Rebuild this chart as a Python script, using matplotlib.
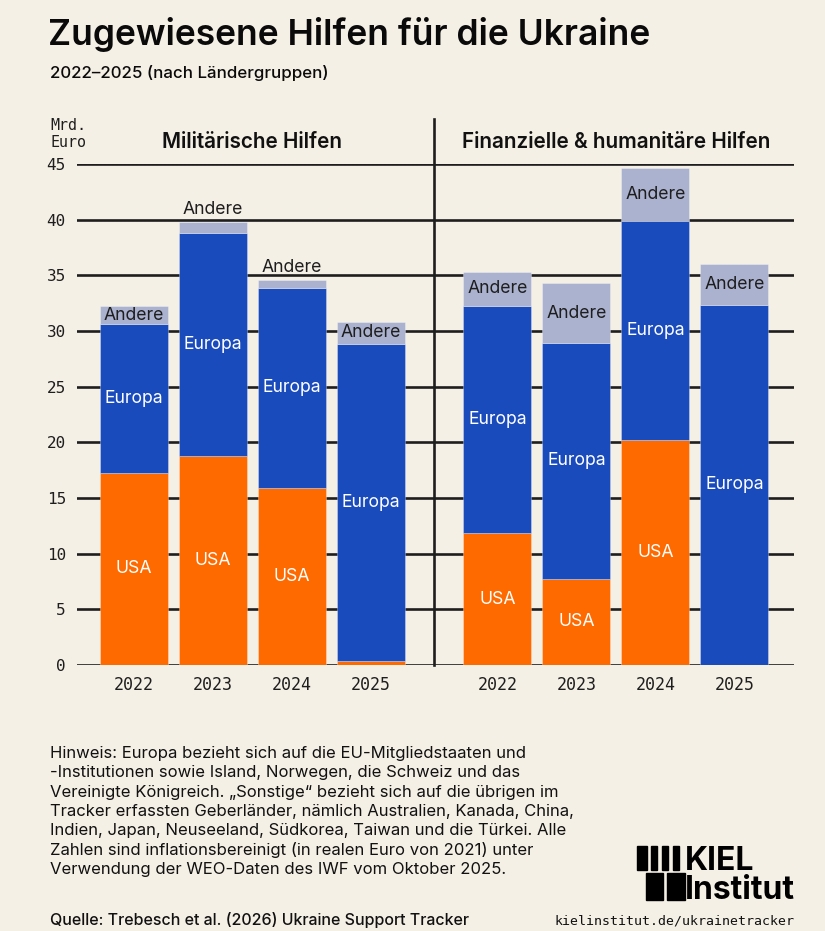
import matplotlib
matplotlib.use("Agg")
import matplotlib.pyplot as plt
from matplotlib.patches import Rectangle

# ---------------- data ----------------
years = ["2022", "2023", "2024", "2025"]
panels = ["Militärische Hilfen", "Finanzielle & humanitäre Hilfen"]
mil_usa = [17.25, 18.8, 15.9, 0.36]
mil_europa = [13.35, 20.0, 18.0, 28.5]
mil_andere = [1.65, 1.0, 0.7, 1.95]
fin_usa = [11.85, 7.75, 20.2, 0.0]
fin_europa = [20.4, 21.15, 19.7, 32.35]
fin_andere = [3.05, 5.4, 4.75, 3.65]
series_names = ["USA", "Europa", "Andere"]
y_ticks = [0, 5, 10, 15, 20, 25, 30, 35, 40, 45]

note_lines = [
    "Hinweis: Europa bezieht sich auf die EU-Mitgliedstaaten und",
    "-Institutionen sowie Island, Norwegen, die Schweiz und das",
    "Vereinigte Königreich. „Sonstige“ bezieht sich auf die übrigen im",
    "Tracker erfassten Geberländer, nämlich Australien, Kanada, China,",
    "Indien, Japan, Neuseeland, Südkorea, Taiwan und die Türkei. Alle",
    "Zahlen sind inflationsbereinigt (in realen Euro von 2021) unter",
    "Verwendung der WEO-Daten des IWF vom Oktober 2025.",
]

# ---------------- style ----------------
BG = "#F5F0E6"
C_USA = "#FF6A00"
C_EUR = "#1A4BBD"
C_AND = "#ABB2CF"
INK = "#1E1E1E"
SANS = ["Inter", "DejaVu Sans"]
MONO = ["DejaVu Sans Mono"]

W, H = 825, 931
fig = plt.figure(figsize=(W / 100, H / 100), dpi=100, facecolor=BG)

def fx(x):
    return x / W

def fy(y):
    return 1 - y / H

ax_l, ax_r, ax_t, ax_b = 77, 794, 164, 665
ax = fig.add_axes([fx(ax_l), fy(ax_b), (ax_r - ax_l) / W, (ax_b - ax_t) / H])
ax.set_facecolor(BG)

gap = 1.6
pos_mil = [0, 1, 2, 3]
pos_fin = [3 + gap + i for i in range(4)]
width = 0.86

ax.set_xlim(-0.72, 8.354)
ax.set_ylim(0, 45)

for t in y_ticks:
    ax.axhline(t, color=INK, lw=1.9, zorder=1)

def draw_group(pos, usa, eur, andr):
    for i, x in enumerate(pos):
        segs = [(usa[i], C_USA, "USA", "white"),
                (eur[i], C_EUR, "Europa", "white"),
                (andr[i], C_AND, "Andere", INK)]
        bottom = 0
        for val, col, name, tc in segs:
            if val > 0:
                ax.bar(x, val, width=width, bottom=bottom, color=col,
                       edgecolor=(1, 1, 1, 0.35), linewidth=0.6, zorder=2)
                if name == "USA" and val < 1.5:
                    pass
                elif val >= 1.5:
                    ax.text(x, bottom + val / 2, name, ha="center", va="center",
                            color=tc, fontsize=12.7, family=SANS, zorder=3)
                else:
                    ax.text(x, bottom + val + 1.1, name, ha="center", va="center",
                            color=tc, fontsize=12.7, family=SANS, zorder=3)
            bottom += val

draw_group(pos_mil, mil_usa, mil_europa, mil_andere)
draw_group(pos_fin, fin_usa, fin_europa, fin_andere)

# divider
div_x = 3 + gap / 2
ax.plot([div_x, div_x], [0, 49], color=INK, lw=1.9, clip_on=False, zorder=4)

# panel titles
ax.text(sum(pos_mil) / 4, 47.0, panels[0], ha="center", va="center",
        fontsize=14.9, fontweight="semibold", family=SANS, color="#111111")
ax.text(sum(pos_fin) / 4, 47.0, panels[1], ha="center", va="center",
        fontsize=14.9, fontweight="semibold", family=SANS, color="#111111")

# axes cosmetics
for s in ax.spines.values():
    s.set_visible(False)
ax.set_yticks(y_ticks)
ax.set_yticklabels([str(t) for t in y_ticks], family=MONO, fontsize=11.5, color=INK)
ax.set_xticks(pos_mil + pos_fin)
ax.set_xticklabels(years + years, family=MONO, fontsize=12, color=INK)
ax.tick_params(axis="both", length=0)
ax.tick_params(axis="y", pad=8)
ax.tick_params(axis="x", pad=8)

# unit label
fig.text(fx(50), fy(130), "Mrd.", family=MONO, fontsize=10.8, color=INK, va="baseline")
fig.text(fx(50), fy(147), "Euro", family=MONO, fontsize=10.8, color=INK, va="baseline")

# title and subtitle
fig.text(fx(48), fy(45), "Zugewiesene Hilfen für die Ukraine", family=SANS,
         fontsize=25.5, fontweight="semibold", color="#0A0A0A", va="baseline")
fig.text(fx(50), fy(78), "2022–2025 (nach Ländergruppen)", family=SANS,
         fontsize=12.2, fontweight="medium", color="#0A0A0A", va="baseline")

# note
for i, line in enumerate(note_lines):
    fig.text(fx(50), fy(758 + i * 19.3), line, family=SANS, fontsize=12.0,
             color="#111111", va="baseline")

fig.text(fx(50), fy(925), "Quelle: Trebesch et al. (2026) Ukraine Support Tracker",
         family=SANS, fontsize=11.5, fontweight="medium", color="#111111", va="baseline")
fig.text(fx(795), fy(925), "kielinstitut.de/ukrainetracker", family=MONO,
         fontsize=9.5, color="#111111", va="baseline", ha="right")

# logo
def prect(x, y, w, h):
    fig.patches.append(Rectangle((fx(x), fy(y + h)), w / W, h / H,
                                 transform=fig.transFigure, color="black"))

for (x, w) in [(637, 10), (651, 6), (662, 6), (673, 6)]:
    prect(x, 846, w, 24)
prect(646, 873, 17, 27)
prect(667, 873, 18, 27)
fig.text(fx(685), fy(870), "KIEL", family=SANS, fontsize=23, fontweight="bold",
         color="black", va="baseline")
fig.text(fx(685), fy(899), "Institut", family=SANS, fontsize=23, fontweight="bold",
         color="black", va="baseline")

fig.savefig("out.png", dpi=100, facecolor=BG)
